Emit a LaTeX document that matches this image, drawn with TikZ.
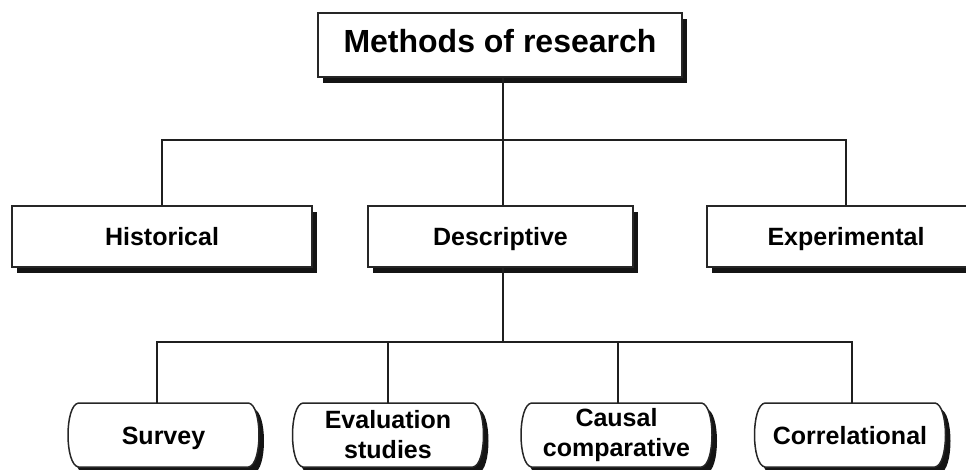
\documentclass[tikz,border=0pt]{standalone}
\usepackage{fontspec}
\setmainfont{Liberation Sans}
\usetikzlibrary{shadows}

% capsule outline centred on the origin of the current scope
\newcommand\capsuleshape[1]{\path[#1] (-85,-32) -- (85,-32)
  .. controls (99,-30) and (99,30) .. (85,32) -- (-85,32)
  .. controls (-99,30) and (-99,-30) .. (-85,-32) -- cycle;}

% capsule box with its shadow and a named text node
\newcommand\capsulebox[4][]{%
  \begin{scope}[shift={#3}]
    \capsuleshape{fill=black!92, shift={(5,6)}}
    \capsuleshape{fill=white, draw=black!85, line width=1.5pt}
    \node[capsule, #1] (#2) at (0,0) {#4};
  \end{scope}}

\begin{document}
\begin{tikzpicture}[x=1pt,y=-1pt,
  link/.style={line width=2pt, draw=black!88},
  oneline/.style={text height=18pt, text depth=0pt},
  headbox/.style={draw=black!85, line width=1.5pt, fill=white, inner sep=0pt,
    minimum height=61pt, font=\bfseries\fontsize{25}{30}\selectfont, oneline,
    drop shadow={shadow xshift=5pt, shadow yshift=-6pt, fill=black!92, opacity=1}},
  capsule/.style={inner sep=0pt, minimum width=170pt, minimum height=64pt,
    align=center, font=\bfseries\fontsize{25}{30}\selectfont}]
\useasboundingbox (0,0) rectangle (966,470);

% top level
\node[headbox, minimum width=364pt, minimum height=64pt, text height=23pt,
  text depth=8pt, font=\bfseries\fontsize{32}{38}\selectfont] (root) at (500,45) {Methods of research};

% second level
\node[headbox, minimum width=300pt] (hist) at (162,236.5) {Historical};
\node[headbox, minimum width=265pt] (desc) at (500.5,236.5) {Descriptive};
\node[headbox, minimum width=278pt] (expe) at (846,236.5) {Experimental};

% third level
\capsulebox[oneline]{surv}{(163.5,435)}{Survey}
\capsulebox{eval}{(388,435)}{Evaluation\\studies}
\capsulebox{caus}{(616.5,435)}{Causal\\comparative}
\capsulebox[oneline]{corr}{(850,435)}{Correlational}

% connectors
\coordinate (busA) at (503,140);
\coordinate (busB) at (503,342);
\draw[link] (root.south -| busA) -- (desc.north -| busA);
\draw[link] (hist.north) |- (busA);
\draw[link] (expe.north) |- (busA);
\draw[link] (desc.south -| busB) -- (busB);
\draw[link] ([xshift=-6.5pt]surv.north) |- (busB);
\draw[link] (eval.north) |- (busB);
\draw[link] ([xshift=1.5pt]caus.north) |- (busB);
\draw[link] ([xshift=2pt]corr.north) |- (busB);
\end{tikzpicture}
\end{document}
